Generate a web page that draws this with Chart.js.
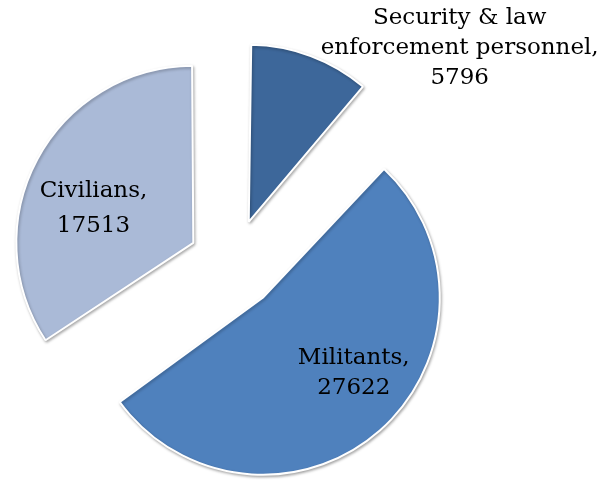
<!DOCTYPE html>
<html>
<head>
<meta charset="utf-8">
<script src="https://cdn.jsdelivr.net/npm/chart.js@4.4.1/dist/chart.umd.min.js"></script>
<style>
  html, body { margin: 0; padding: 0; background: #fff; }
  #wrap { width: 603px; height: 481px; }
</style>
</head>
<body>
<div id="wrap"><canvas id="casualtyChart"></canvas></div>
<script>
const categories = ['Security & law enforcement personnel', 'Militants', 'Civilians'];
const casualties = [5796, 27622, 17513];
const sliceColors = ['#3D679A', '#4F81BD', '#AABAD7'];
const explode = [180, 180, 180];

// where each label sits: turn (deg) from the slice middle, distance as share of the radius
const labelShift = [30, -9, -9];
const labelDist = [1.545, 0.667, 0.597];
const labelLineHeight = [30, 30, 35];
const labelWidth = 290;

function wrap(ctx, text, maxWidth) {
    const words = text.split(' ');
    const lines = [];
    let line = '';
    words.forEach(w => {
        const test = line ? line + ' ' + w : w;
        if (line && ctx.measureText(test).width > maxWidth) {
            lines.push(line);
            line = w;
        } else {
            line = test;
        }
    });
    lines.push(line);
    return lines;
}

// arc.draw grows exploded slices by offset/4 * fix
function growth(arc) {
    const off = (arc.options.offset || 0) / 4;
    return off * (1 - Math.sin(Math.min(Math.PI, arc.circumference)));
}

// take that growth back so all slices keep one radius
const keepRadius = {
    id: 'keepRadius',
    afterDatasetUpdate(chart, args) {
        args.meta.data.forEach(arc => {
            arc.outerRadius -= growth(arc);
        });
    }
};

const sliceShadow = {
    id: 'sliceShadow',
    beforeDatasetDraw(chart) {
        const ctx = chart.ctx;
        ctx.save();
        ctx.shadowColor = 'rgba(0,0,0,0.3)';
        ctx.shadowBlur = 3;
        ctx.shadowOffsetX = 1;
        ctx.shadowOffsetY = 1.5;
    },
    afterDatasetDraw(chart) {
        chart.ctx.restore();
    }
};

const sliceLabels = {
    id: 'sliceLabels',
    afterDatasetsDraw(chart) {
        const ctx = chart.ctx;
        const meta = chart.getDatasetMeta(0);
        ctx.save();
        ctx.font = '23px "DejaVu Serif"';
        ctx.fillStyle = '#000';
        ctx.textAlign = 'center';
        ctx.textBaseline = 'middle';
        meta.data.forEach((arc, i) => {
            const mid = (arc.startAngle + arc.endAngle) / 2;
            const off = (arc.options.offset || 0) / 4;
            const ax = arc.x + Math.cos(mid) * off;
            const ay = arc.y + Math.sin(mid) * off;
            const a = mid + labelShift[i] * Math.PI / 180;
            const r = labelDist[i] * (arc.outerRadius + growth(arc));
            const lx = ax + Math.cos(a) * r;
            const ly = ay + Math.sin(a) * r;
            const lines = wrap(ctx, categories[i] + ',', labelWidth).concat(String(casualties[i]));
            const lh = labelLineHeight[i];
            lines.forEach((t, k) => {
                ctx.fillText(t, lx, ly + (k - (lines.length - 1) / 2) * lh);
            });
        });
        ctx.restore();
    }
};

const ctx = document.getElementById('casualtyChart').getContext('2d');
new Chart(ctx, {
    type: 'pie',
    data: {
        labels: categories,
        datasets: [{
            data: casualties,
            backgroundColor: sliceColors,
            borderColor: '#fff',
            borderWidth: 2,
            offset: explode,
            radius: 177,
            clip: false
        }]
    },
    options: {
        responsive: true,
        maintainAspectRatio: false,
        animation: false,
        events: [],
        layout: {
            padding: { left: 0, right: 137, top: 47, bottom: 0 }
        },
        plugins: {
            legend: { display: false },
            tooltip: { enabled: false }
        }
    },
    plugins: [keepRadius, sliceShadow, sliceLabels]
});
</script>
</body>
</html>
